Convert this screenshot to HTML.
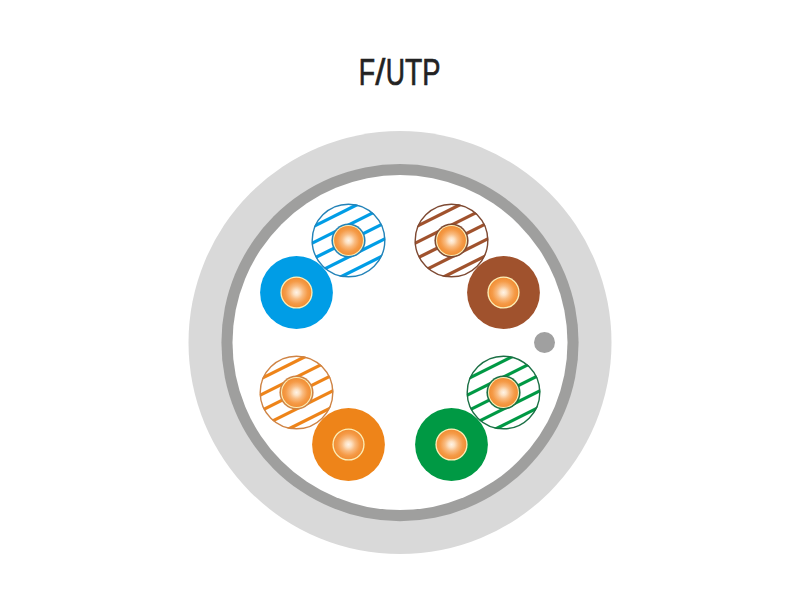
<!DOCTYPE html>
<html><head><meta charset="utf-8"><style>
html,body{margin:0;padding:0;background:#fff;width:800px;height:600px;overflow:hidden}
svg{display:block}
</style></head><body>
<svg width="800" height="600" viewBox="0 0 800 600">
<defs><radialGradient id="cu" cx="50%" cy="50%" r="50%"><stop offset="0%" stop-color="#fff3e6"/><stop offset="20%" stop-color="#fde2c4"/><stop offset="45%" stop-color="#f9bb80"/><stop offset="75%" stop-color="#f59b48"/><stop offset="100%" stop-color="#f18e34"/></radialGradient><clipPath id="c0"><circle cx="348.5" cy="240.5" r="37.0"/></clipPath><clipPath id="c2"><circle cx="451.5" cy="240.5" r="37.0"/></clipPath><clipPath id="c4"><circle cx="296.5" cy="392.5" r="37.0"/></clipPath><clipPath id="c6"><circle cx="503.5" cy="392.5" r="37.0"/></clipPath></defs>
<rect width="800" height="600" fill="#fff"/>
<text x="0" y="85.2" font-family="Liberation Sans, sans-serif" font-size="37.8" fill="#222222" stroke="#222222" stroke-width="0.707" transform="translate(358.81 0) scale(0.7073 1)">F</text><text x="0" y="85.2" font-family="Liberation Sans, sans-serif" font-size="37.8" fill="#222222" stroke="#222222" stroke-width="0.519" transform="translate(375.25 0) scale(0.9637 1)">/</text><text x="0" y="85.2" font-family="Liberation Sans, sans-serif" font-size="37.8" fill="#222222" stroke="#222222" stroke-width="0.710" transform="translate(385.82 0) scale(0.7039 1)">U</text><text x="0" y="85.2" font-family="Liberation Sans, sans-serif" font-size="37.8" fill="#222222" stroke="#222222" stroke-width="0.669" transform="translate(404.99 0) scale(0.7472 1)">T</text><text x="0" y="85.2" font-family="Liberation Sans, sans-serif" font-size="37.8" fill="#222222" stroke="#222222" stroke-width="0.691" transform="translate(422.36 0) scale(0.7238 1)">P</text>
<circle cx="400" cy="342.6" r="211.5" fill="#d9d9d9"/>
<circle cx="400" cy="342.6" r="178.6" fill="#9f9f9e"/>
<circle cx="400" cy="342.6" r="167.5" fill="#fff"/>
<circle cx="544.5" cy="342.5" r="10.5" fill="#a0a0a0"/>
<circle cx="348.5" cy="240.5" r="37.0" fill="#fff"/><g clip-path="url(#c0)" stroke="#009de6" stroke-width="3.3"><line x1="304.5" y1="231.0" x2="392.5" y2="187.0"/><line x1="304.5" y1="247.0" x2="392.5" y2="203.0"/><line x1="304.5" y1="263.0" x2="392.5" y2="219.0"/><line x1="304.5" y1="279.0" x2="392.5" y2="235.0"/><line x1="304.5" y1="295.0" x2="392.5" y2="251.0"/></g><circle cx="348.5" cy="240.5" r="36.3" fill="none" stroke="#2483b8" stroke-width="1.4"/><circle cx="348.5" cy="240.5" r="17.1" fill="#2483b8"/><circle cx="348.5" cy="240.5" r="15.5" fill="#fcefb8"/><circle cx="348.5" cy="240.5" r="14.4" fill="url(#cu)"/><circle cx="296.5" cy="292.5" r="36.4" fill="#009de6"/><circle cx="296.5" cy="292.5" r="16.1" fill="#fcefb8"/><circle cx="296.5" cy="292.5" r="14.8" fill="url(#cu)"/><circle cx="451.5" cy="240.5" r="37.0" fill="#fff"/><g clip-path="url(#c2)" stroke="#a0522d" stroke-width="3.3"><line x1="407.5" y1="231.0" x2="495.5" y2="187.0"/><line x1="407.5" y1="247.0" x2="495.5" y2="203.0"/><line x1="407.5" y1="263.0" x2="495.5" y2="219.0"/><line x1="407.5" y1="279.0" x2="495.5" y2="235.0"/><line x1="407.5" y1="295.0" x2="495.5" y2="251.0"/></g><circle cx="451.5" cy="240.5" r="36.3" fill="none" stroke="#7e4a33" stroke-width="1.4"/><circle cx="451.5" cy="240.5" r="17.1" fill="#7e4a33"/><circle cx="451.5" cy="240.5" r="15.5" fill="#fcefb8"/><circle cx="451.5" cy="240.5" r="14.4" fill="url(#cu)"/><circle cx="503.5" cy="292.5" r="36.4" fill="#a0522d"/><circle cx="503.5" cy="292.5" r="16.1" fill="#fcefb8"/><circle cx="503.5" cy="292.5" r="14.8" fill="url(#cu)"/><circle cx="296.5" cy="392.5" r="37.0" fill="#fff"/><g clip-path="url(#c4)" stroke="#ee8419" stroke-width="3.3"><line x1="252.5" y1="383.0" x2="340.5" y2="339.0"/><line x1="252.5" y1="399.0" x2="340.5" y2="355.0"/><line x1="252.5" y1="415.0" x2="340.5" y2="371.0"/><line x1="252.5" y1="431.0" x2="340.5" y2="387.0"/><line x1="252.5" y1="447.0" x2="340.5" y2="403.0"/></g><circle cx="296.5" cy="392.5" r="36.3" fill="none" stroke="#cf8445" stroke-width="1.4"/><circle cx="296.5" cy="392.5" r="17.1" fill="#cf8445"/><circle cx="296.5" cy="392.5" r="15.5" fill="#fcefb8"/><circle cx="296.5" cy="392.5" r="14.4" fill="url(#cu)"/><circle cx="348.5" cy="444.5" r="36.4" fill="#ee8419"/><circle cx="348.5" cy="444.5" r="16.1" fill="#fcefb8"/><circle cx="348.5" cy="444.5" r="14.8" fill="url(#cu)"/><circle cx="503.5" cy="392.5" r="37.0" fill="#fff"/><g clip-path="url(#c6)" stroke="#009944" stroke-width="3.3"><line x1="459.5" y1="383.0" x2="547.5" y2="339.0"/><line x1="459.5" y1="399.0" x2="547.5" y2="355.0"/><line x1="459.5" y1="415.0" x2="547.5" y2="371.0"/><line x1="459.5" y1="431.0" x2="547.5" y2="387.0"/><line x1="459.5" y1="447.0" x2="547.5" y2="403.0"/></g><circle cx="503.5" cy="392.5" r="36.3" fill="none" stroke="#1b7045" stroke-width="1.4"/><circle cx="503.5" cy="392.5" r="17.1" fill="#1b7045"/><circle cx="503.5" cy="392.5" r="15.5" fill="#fcefb8"/><circle cx="503.5" cy="392.5" r="14.4" fill="url(#cu)"/><circle cx="451.5" cy="444.5" r="36.4" fill="#009944"/><circle cx="451.5" cy="444.5" r="16.1" fill="#fcefb8"/><circle cx="451.5" cy="444.5" r="14.8" fill="url(#cu)"/>
</svg>
</body></html>
